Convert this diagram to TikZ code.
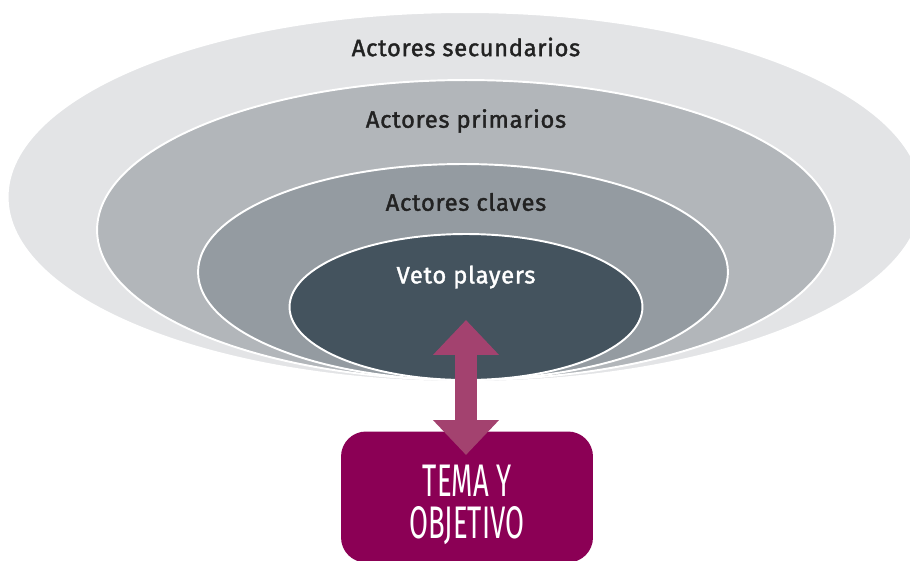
\documentclass[tikz,border=0pt]{standalone}
\usepackage{fontspec}
\setmainfont{Fira Sans}
\usepackage{xcolor}
\usepackage{tikz}
\usetikzlibrary{arrows.meta,positioning,shapes.geometric}

\definecolor{ringsec}{HTML}{E3E4E6}
\definecolor{ringpri}{HTML}{B2B6BA}
\definecolor{ringcla}{HTML}{949BA1}
\definecolor{ringveto}{HTML}{44535E}
\definecolor{lbltext}{HTML}{222222}
\definecolor{arrowpink}{HTML}{A3426F}
\definecolor{goalmag}{HTML}{8B0055}

\begin{document}
\begin{tikzpicture}[
    x=0.02cm, y=-0.02cm,
    ring/.style={ellipse, draw=white, line width=1.1pt, inner sep=0pt},
    lbl/.style={font=\fontsize{13.5}{15}\selectfont\addfontfeatures{LetterSpace=3,FakeBold=1.6}, text=lbltext},
    dblarrow/.style={{Triangle[length=0.7cm,width=1.28cm]}-{Triangle[length=0.7cm,width=1.28cm]},
                     line width=0.44cm, draw=arrowpink},
    goal/.style={rounded corners=0.5cm, fill=goalmag, minimum width=5.04cm, minimum height=2.62cm},
    goaltext/.style={align=center, text=white, font=\fontsize{26}{24}\selectfont},
]
\useasboundingbox (0,0) rectangle (910,561);

% ── Rings, outermost first ──
\node[ring, fill=ringsec, minimum width=18.3cm, minimum height=7.4cm] (sec) at (465,197) {};
\node[ring, fill=ringpri, minimum width=14.76cm, minimum height=6cm] (pri) at (466,230) {};
\node[ring, fill=ringcla, minimum width=10.6cm, minimum height=4.32cm] (cla) at (463,272) {};
\node[ring, fill=ringveto, minimum width=7.06cm, minimum height=2.92cm] (veto) at (466,307) {};

% ── Ring labels ──
\node[lbl] (seclbl) at (466,47) {Actores secundarios};
\node[lbl] (prilbl) at (466,121) {Actores primarios};
\node[lbl] (clalbl) at (466,202) {Actores claves};
\node[lbl, text=white] (vetolbl) at (466,277) {Veto players};

% ── Goal box ──
\node[goal] (goal) at (467,497) {};
\node[goaltext] (goaltxt) at (467,505) {\scalebox{0.6}[1]{TEMA Y}\\\scalebox{0.6}[1]{OBJETIVO}};

% ── Link ──
\coordinate (linktop) at (466,320);
\coordinate (linkbot) at (466,455);
\draw[dblarrow] (linkbot) -- (linktop);

\end{tikzpicture}
\end{document}
